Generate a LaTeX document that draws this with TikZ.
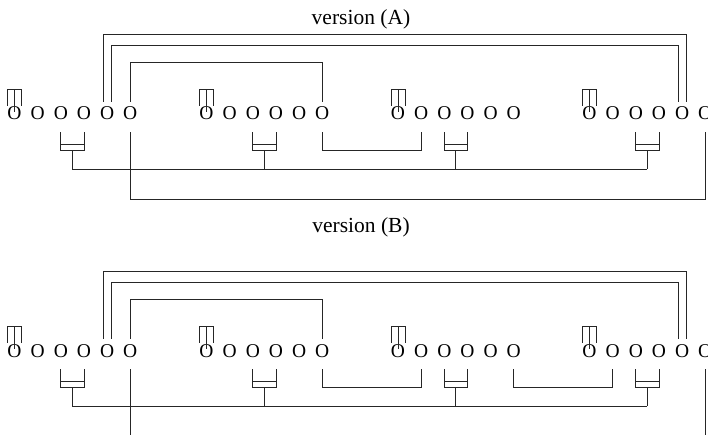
\documentclass[tikz,border=0pt]{standalone}
\usepackage{fontspec}
\setmainfont{Liberation Serif}
\usepackage{tikz}
\usetikzlibrary{positioning}

\begin{document}
\begin{tikzpicture}[x=1pt,y=-1pt,
    every node/.style={font=\fontsize{19.5}{20}\selectfont},
    pin/.style={inner sep=0pt,anchor=base,text height=18pt,text depth=12pt},
    title/.style={anchor=base,font=\fontsize{21.5}{24}\selectfont},
    link/.style={line width=0.85pt,black!85},
]
\useasboundingbox (0,0) rectangle (708,435);
\clip (0,0) rectangle (708,435);
\node[title] (tA) at (361,25)  {version (A)};
\node[title] (tB) at (361,233) {version (B)};
% the four rows of six, with the cap on the first one and the pair bracket
\foreach \v/\y in {A/120, B/357}{
  \foreach \g/\gx in {1/14.5, 2/206.5, 3/398, 4/589.5}{
    \foreach \j in {1,...,6}{
      \node[pin] (\v\g-\j) at (\gx+23.15*\j-23.15,\y) {O};
    }
    \draw[link] ([xshift=-7pt,yshift=-4pt]\v\g-1.north) |- ([xshift=7pt,yshift=12pt]\v\g-1.north) -- ([xshift=7pt,yshift=-4pt]\v\g-1.north);
    \draw[link] ([yshift=12pt]\v\g-1.north) -- ([yshift=-10pt]\v\g-1.north);
    \draw[link] (\v\g-3.south) -- ++(0,18) -| (\v\g-4.south);
    \draw[link] ([yshift=-12pt]\v\g-3.south) -- ([yshift=-12pt]\v\g-4.south);
    \path (\v\g-3.south) -- (\v\g-4.south) coordinate[pos=0.5] (\v m\g);
    \draw[link] ([yshift=-18pt]\v m\g) -- ([yshift=-37pt]\v m\g);
  }
  \draw[link] ([yshift=-37pt]\v m1) -- ([yshift=-37pt]\v m4);
  % links over the top
  \draw[link] ([xshift=-4pt]\v1-5.north) -- ++(0,-67) -| ([xshift=4pt]\v4-5.north);
  \draw[link] ([xshift=4pt]\v1-5.north) -- ++(0,-56) -| ([xshift=-4pt]\v4-5.north);
  \draw[link] (\v1-6.north) -- ++(0,-39) -| (\v2-6.north);
  \draw[link] (\v2-6.south) -- ++(0,18) -| (\v3-2.south);
}
\draw[link] (A1-6.south) -- ++(0,67) -| (A4-6.south);
\draw[link] (B1-6.south) -- ++(0,80);
\draw[link] (B4-6.south) -- ++(0,80);
\draw[link] (B3-6.south) -- ++(0,18) -| (B4-2.south);
\end{tikzpicture}
\end{document}
